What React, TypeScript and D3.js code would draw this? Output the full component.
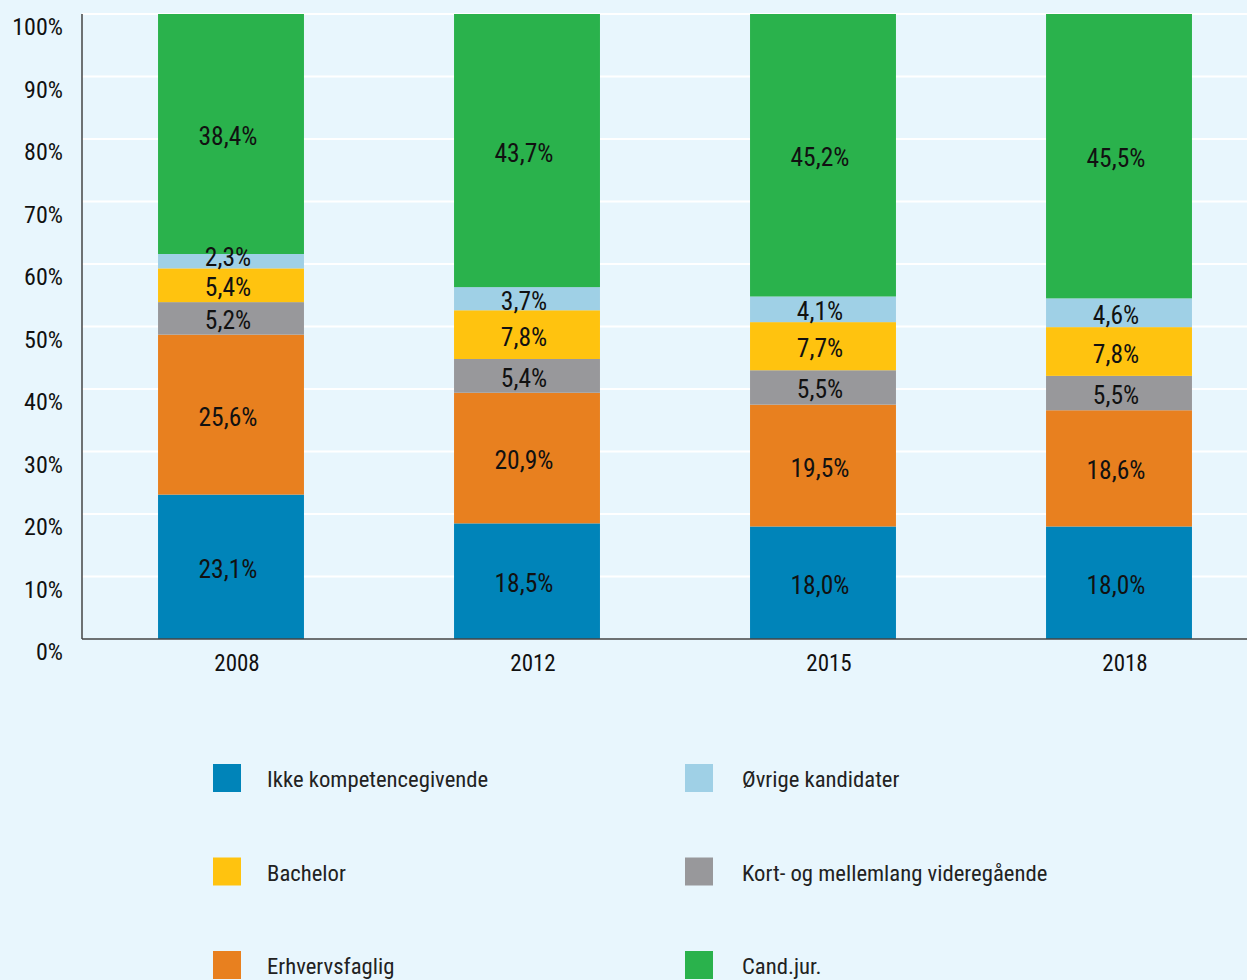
import React from "react";
import * as d3 from "d3";

// data
const years = ["2008", "2012", "2015", "2018"];
const seriesNames = [
  "Ikke kompetencegivende",
  "Erhvervsfaglig",
  "Kort- og mellemlang videregående",
  "Bachelor",
  "Øvrige kandidater",
  "Cand.jur.",
];
const ikkeKompetencegivende = [23.1, 18.5, 18.0, 18.0];
const erhvervsfaglig = [25.6, 20.9, 19.5, 18.6];
const kortMellemlang = [5.2, 5.4, 5.5, 5.5];
const bachelor = [5.4, 7.8, 7.7, 7.8];
const ovrigeKandidater = [2.3, 3.7, 4.1, 4.6];
const candJur = [38.4, 43.7, 45.2, 45.5];
const seriesColors = ["#0084b9", "#e8801f", "#98989b", "#ffc30f", "#9fd0e6", "#2ab24c"];
const yTicks = [0, 10, 20, 30, 40, 50, 60, 70, 80, 90, 100];
// legend layout order (two columns, three rows)
const legendOrder = [0, 4, 3, 2, 1, 5];

const FONT = "'Roboto Condensed', 'Liberation Sans Narrow', 'DejaVu Sans Condensed', sans-serif";

const App = () => {
  const svgRef = React.useRef<SVGSVGElement | null>(null);
  const width = 1247;
  const height = 980;

  React.useEffect(() => {
    document.body.style.margin = "0";
    const svg = d3.select(svgRef.current);
    svg.selectAll("*").remove();

    svg.append("rect").attr("width", width).attr("height", height).attr("fill", "#e8f6fd");

    const values = [ikkeKompetencegivende, erhvervsfaglig, kortMellemlang, bachelor, ovrigeKandidater, candJur];
    const rows = years.map((year, i) => {
      const row: any = { year };
      seriesNames.forEach((name, s) => (row[name] = values[s][i]));
      return row;
    });
    const stacked = d3.stack().keys(seriesNames)(rows);

    const x = d3.scaleBand().domain(years).range([83, 1267]).paddingInner(0.507).paddingOuter(0.2535);
    const y = d3.scaleLinear().domain([0, 100]).range([639, 14]);

    // gridlines
    svg
      .append("g")
      .selectAll("line")
      .data(yTicks.slice(1))
      .enter()
      .append("line")
      .attr("x1", 82)
      .attr("x2", width)
      .attr("y1", (d) => y(d))
      .attr("y2", (d) => y(d))
      .attr("stroke", "#ffffff")
      .attr("stroke-width", 2);

    // y tick labels (sit below their gridline in the original)
    svg
      .append("g")
      .selectAll("text")
      .data(yTicks)
      .enter()
      .append("text")
      .attr("x", 63)
      .attr("y", (d) => y(d) + 21)
      .attr("text-anchor", "end")
      .style("font-family", FONT)
      .style("font-size", "24px")
      .attr("fill", "#111")
      .text((d) => `${d}%`);

    // bars
    svg
      .append("g")
      .selectAll("g")
      .data(stacked)
      .enter()
      .append("g")
      .attr("fill", (_, i) => seriesColors[i])
      .selectAll("rect")
      .data((d) => d)
      .enter()
      .append("rect")
      .attr("x", (d: any) => x(d.data.year)!)
      .attr("width", x.bandwidth())
      .attr("y", (d) => y(d[1]))
      .attr("height", (d) => y(d[0]) - y(d[1]));

    // value labels on top of every bar, small segments nudged up like the original
    const labels = stacked.flatMap((layer) => layer.map((p) => p));
    svg
      .append("g")
      .selectAll("text")
      .data(labels)
      .enter()
      .append("text")
      .attr("x", (d: any) => x(d.data.year)! + x.bandwidth() / 2 - 3)
      .attr("y", (d) => {
        const mid = (y(d[0]) + y(d[1])) / 2;
        const small = d[1] - d[0] < 3;
        return mid + (small ? 5 : 11);
      })
      .attr("text-anchor", "middle")
      .attr("fill", "#111")
      .style("font-family", FONT)
      .style("font-size", "25.5px")
      .text((d) => `${(d[1] - d[0]).toFixed(1).replace(".", ",")}%`);

    // axes lines
    svg.append("line").attr("x1", 82).attr("x2", 82).attr("y1", 14).attr("y2", 639).attr("stroke", "#444").attr("stroke-width", 1.5);
    svg.append("line").attr("x1", 82).attr("x2", width).attr("y1", 639).attr("y2", 639).attr("stroke", "#444").attr("stroke-width", 1.5);

    // year labels
    svg
      .append("g")
      .selectAll("text")
      .data(years)
      .enter()
      .append("text")
      .attr("x", (d) => x(d)! + x.bandwidth() / 2 + 6)
      .attr("y", 671)
      .attr("text-anchor", "middle")
      .attr("fill", "#111")
      .style("font-family", FONT)
      .style("font-size", "23px")
      .text((d) => d);

    // legend
    const legend = svg
      .append("g")
      .selectAll("g")
      .data(legendOrder)
      .enter()
      .append("g")
      .attr("transform", (_, i) => `translate(${i % 2 === 0 ? 213 : 685}, ${764 + Math.floor(i / 2) * 93.5})`);
    legend.append("rect").attr("width", 28).attr("height", 28).attr("fill", (s) => seriesColors[s]);
    legend
      .append("text")
      .attr("x", (_, i) => (i % 2 === 0 ? 54 : 57))
      .attr("y", 23)
      .attr("fill", "#222")
      .style("font-family", FONT)
      .style("font-size", "22.7px")
      .text((s) => seriesNames[s]);
  }, []);

  return <svg ref={svgRef} width={width} height={height} style={{ display: "block" }} />;
};

export default App;
